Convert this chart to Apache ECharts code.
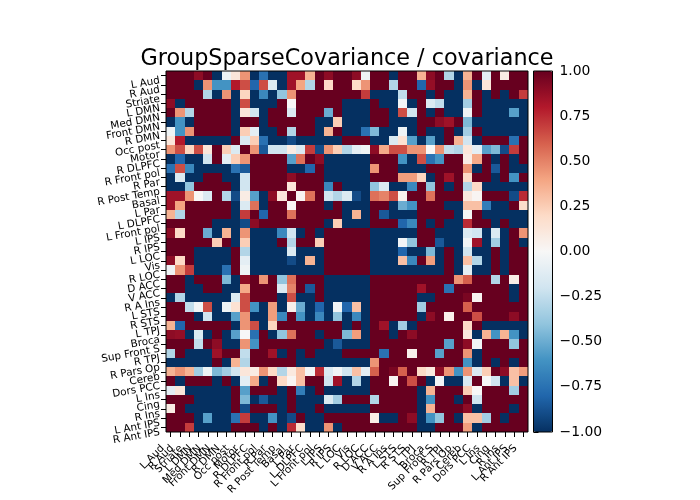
<!DOCTYPE html>
<html>
<head>
<meta charset="utf-8">
<style>html,body{margin:0;padding:0;background:#fff}#chart{width:700px;height:500px}</style>
<script src="https://cdn.jsdelivr.net/npm/echarts@6/dist/echarts.min.js"></script>
</head>
<body>
<div id="chart"></div>
<script>
// Brain region names, in matrix order.
const regions = ['L Aud','R Aud','Striate','L DMN','Med DMN','Front DMN','R DMN','Occ post','Motor','R DLPFC','R Front pol','R Par','R Post Temp','Basal','L Par','L DLPFC','L Front pol','L IPS','R IPS','L LOC','Vis','R LOC','D ACC','V ACC','R A Ins','L STS','R STS','L TPJ','Broca','Sup Front S','R TPJ','R Pars Op','Cereb','Dors PCC','L Ins','Cing','R Ins','L Ant IPS','R Ant IPS'];

// Upper triangle of the symmetric covariance matrix: each row starts at the diagonal.
const upperRows = [
[1,1,1,.9,1,-1,-.05,.12,.45,-1,-.75,-1,-1,.85,.85,.35,1,.9,1,1,.9,-.05,1,1,-1,1,1,.35,.9,1,-.3,-1,.35,1,-.1,1,.08,1,1],
[1,1,-1,.45,-.6,-.6,.8,.65,-.8,.65,-.15,-1,.85,.4,-.3,1,.2,1,1,.2,.45,1,1,-.3,1,1,-.8,.88,1,1,-1,.45,-1,.12,1,1,1,1],
[1,1,-.3,-1,.45,-1,.22,-1,-.65,-1,-.4,.45,1,1,1,1,1,1,1,.7,-1,-1,-1,-.25,1,1,-1,1,-1,-1,.35,1,-1,1,-1,1,.7],
[1,1,1,1,-1,.65,-1,-1,-1,1,0,1,1,1,1,1,-1,-1,-1,1,-1,-1,-.03,-1,1,-.15,-.25,-1,-1,-.35,1,-1,-1,-1,-1,-1],
[1,1,1,-1,.12,-.2,-1,1,1,-.15,1,1,1,-.5,1,-1,-1,-1,1,1,-1,.65,-.2,1,-1,1,-1,-1,-.05,1,-1,-1,-1,-.55,-1],
[1,1,-1,1,1,-1,1,1,1,1,1,-1,-1,.25,-1,-1,-1,1,1,-1,-1,-1,1,1,.9,.85,1,-.45,-1,-1,-1,-1,-1,-1],
[1,-1,.25,-.1,-1,-1,1,-.3,1,1,-1,.35,1,-1,-1,-.75,-.45,-1,-1,-.05,-1,1,-1,-1,1,-1,-.35,1,-1,-1,-1,-1,-1],
[1,-.15,.25,-.75,-1,-1,-.9,-1,-1,-1,-1,-1,1,1,1,-1,-1,-.15,.15,-.55,-1,-.55,-1,1,.35,-.2,-1,1,1,1,-.75,1],
[1,.45,-.85,-.2,-.2,.08,-.15,.7,-.9,.45,.25,-.3,-.1,-.05,.9,.38,.65,.65,.45,.45,0,.45,-.25,-.3,.12,-.1,-.55,-.45,-.9,.7,1],
[1,1,1,1,-.55,.55,1,.9,-1,-1,-1,-1,-1,1,1,1,-.6,-1,.65,-.75,-.6,1,1,.08,.38,1,-1,1,-1,1],
[1,1,1,-1,-1,-.8,1,-1,-1,-1,-1,-1,.45,1,1,-1,-1,-1,1,1,1,1,.45,-1,1,-.85,1,-1,-1],
[1,1,.9,1,1,1,-1,-1,-1,-1,-1,1,1,1,.42,.42,.22,-1,1,.85,1,.2,1,1,-1,1,-.6,1],
[1,.12,1,1,1,-.65,1,-1,-1,-1,-.4,-.15,-1,-1,-.65,1,-.4,1,-1,1,-.3,.2,-1,-1,-1,-1,-1],
[1,.02,.55,1,-.2,-.3,-.15,-.9,-1,.55,.5,.65,.05,1,1,.55,1,1,1,.1,.02,1,1,1,-.9,.75],
[1,1,1,-1,1,-1,-1,-1,1,1,-1,-.5,-.6,1,1,1,-1,-1,.3,.3,-.7,-1,-1,1,.18],
[1,1,1,1,-1,.35,-1,1,-.85,-1,-1,-1,1,1,1,1,-1,-.02,1,-1,-1,-1,-1,-1],
[1,-1,.25,-1,-1,-1,1,1,1,-.8,-.65,1,-1,1,-1,-1,.75,1,1,-1,1,-1,-1],
[1,1,1,1,1,-1,-1,-1,-1,-1,1,1,-1,-1,-1,-.15,-.2,-1,-.15,-1,1,.45],
[1,1,1,1,-1,-1,-1,-.03,-.4,1,1,-.85,-1,-1,-.03,.85,-1,-.35,-1,1,-1],
[1,1,1,-1,-1,-1,-.8,-1,-1,-.45,-1,1,-1,-.2,-1,-1,1,-1,1,1],
[1,1,-1,-1,-1,.3,-.65,1,.42,-1,1,-1,.3,-.3,-1,1,-1,1,1],
[1,-1,-1,-1,-1,-1,-1,-1,-1,1,-1,-.1,-1,-1,1,-1,1,1],
[1,1,1,1,1,1,1,1,1,.45,.6,1,1,-.3,1,.07,1],
[1,1,1,1,.85,1,1,-.75,1,1,1,1,1,1,-1,1],
[1,1,1,-1,-1,1,1,1,.95,.03,1,1,1,-1,1],
[1,1,-.35,1,1,1,1,.6,1,1,1,1,1,1],
[1,-1,.9,1,.05,1,1,.65,1,1,1,.9,1],
[1,1,1,1,1,.2,1,-1,-1,-1,-1,-1],
[1,1,1,1,.1,-1,.35,-.6,.35,-.6,-1],
[1,-.55,1,.9,-.03,1,1,1,-.4,1],
[1,1,.45,-1,1,1,1,1,1],
[1,-.6,-1,1,-1,1,-1,1],
[.45,-.15,.25,1,.9,.3,.42],
[1,0,-.2,-1,.3,-1],
[1,1,1,-.35,1],
[1,1,1,1],
[1,-1,1],
[1,1],
[1]
];

// Colour stops of the diverging blue-white-red scale.
const scaleColors = ['#053061','#2166ac','#4393c3','#92c5de','#d1e5f0','#f7f7f7','#fddbc7','#f4a582','#d6604d','#b2182b','#67001f'];

// Mirror the triangle into [column, row, value] cells.
const cells = [];
upperRows.forEach((row, i) => row.forEach((v, k) => {
  const j = i + k;
  cells.push([j, i, v]);
  if (j !== i) cells.push([i, j, v]);
}));

const font = 'DejaVu Sans';
const plot = {left: 166, top: 71, width: 362, height: 361};
const bar = {left: 533.5, top: 71, width: 19, height: 361};
const black = {lineStyle: {color: '#000', width: 1}};

// One filled matrix cell, snapped to whole pixels so neighbours share an edge.
function renderCell(params, api) {
  const c = api.coord([api.value(0), api.value(1)]);
  const s = api.size([1, 1]);
  const x0 = Math.round(c[0] - s[0] / 2), x1 = Math.round(c[0] + s[0] / 2);
  const y0 = Math.round(c[1] - s[1] / 2), y1 = Math.round(c[1] + s[1] / 2);
  return {
    type: 'rect',
    shape: {x: x0, y: y0, width: x1 - x0, height: y1 - y0},
    style: {fill: api.visual('color'), stroke: null}
  };
}

const chart = echarts.init(document.getElementById('chart'), null, {renderer: 'canvas'});
chart.setOption({
  animation: false,
  backgroundColor: '#fff',
  title: {
    text: 'GroupSparseCovariance / covariance',
    left: 342, top: 43, textAlign: 'center',
    textStyle: {fontFamily: font, fontSize: 22.3, fontWeight: 'normal', color: '#000'}
  },
  grid: [
    Object.assign({show: true, z: 6, borderColor: '#000', borderWidth: 1, backgroundColor: 'transparent'}, plot),
    Object.assign({show: true, z: 6, borderColor: '#000', borderWidth: 1, backgroundColor: 'transparent'}, bar)
  ],
  xAxis: [
    {
      type: 'category', data: regions, gridIndex: 0, position: 'bottom',
      axisLine: {show: false},
      axisTick: {show: true, alignWithLabel: true, length: 5, ...black},
      splitLine: {show: false},
      axisLabel: {interval: 0, rotate: 45, margin: 7, padding: [0, 11, 0, 0], fontFamily: font, fontSize: 10.4, color: '#000'}
    },
    {type: 'value', gridIndex: 1, show: false, min: 0, max: 1}
  ],
  yAxis: [
    {
      type: 'category', data: regions, gridIndex: 0, inverse: true,
      axisLine: {show: false},
      axisTick: {show: true, alignWithLabel: true, length: 5, ...black},
      splitLine: {show: false},
      axisLabel: {interval: 0, rotate: 10, margin: 7, verticalAlign: 'top', fontFamily: font, fontSize: 10.4, color: '#000'}
    },
    {
      type: 'value', gridIndex: 1, position: 'right', min: -1, max: 1, interval: 0.25,
      axisLine: {show: false},
      axisTick: {show: true, length: 5, ...black},
      splitLine: {show: false},
      axisLabel: {
        margin: 7, fontFamily: font, fontSize: 13.9, color: '#000',
        formatter: v => v.toFixed(2).replace('-', '\u2212')
      }
    }
  ],
  visualMap: {
    type: 'continuous', min: -1, max: 1, seriesIndex: 0, dimension: 2,
    left: bar.left, top: bar.top, itemWidth: bar.width, itemHeight: bar.height,
    padding: 0, calculable: false, realtime: false, showLabel: false, text: null,
    inRange: {color: scaleColors}
  },
  series: [
    {
      type: 'custom', coordinateSystem: 'cartesian2d', xAxisIndex: 0, yAxisIndex: 0,
      data: cells, renderItem: renderCell, encode: {x: 0, y: 1}, progressive: 0, silent: true
    },
    {type: 'line', xAxisIndex: 1, yAxisIndex: 1, data: [], silent: true}
  ]
});
</script>
</body>
</html>
